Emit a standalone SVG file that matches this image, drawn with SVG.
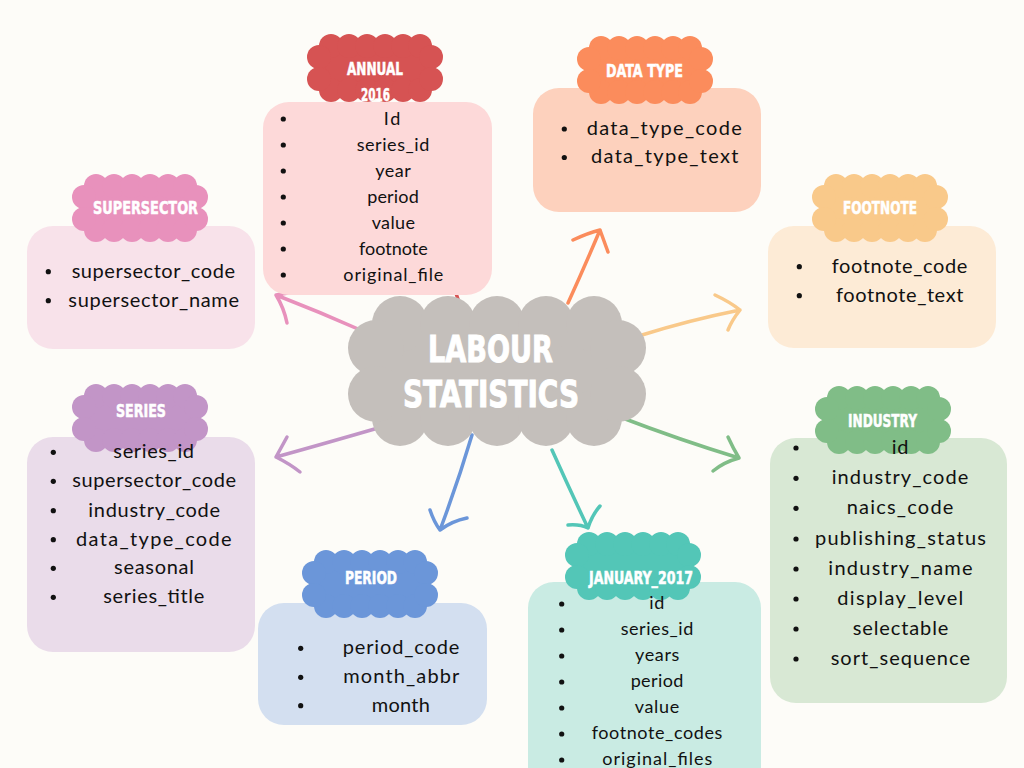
<svg xmlns="http://www.w3.org/2000/svg" width="1024" height="768" viewBox="0 0 1024 768">
<style>
.bg{fill:#fdfcf8}
.item{font-family:Lato,"Liberation Sans",sans-serif;fill:#111;text-anchor:middle}
.s18{font-size:18px}
.s20{font-size:20px}
.ttl{font-family:"Liberation Sans Narrow","DejaVu Sans Condensed","Liberation Sans",sans-serif;font-weight:bold;fill:#fff;stroke:#fff;stroke-width:0.5;text-anchor:middle;font-size:17px}
.big{font-family:"Liberation Sans Narrow","DejaVu Sans Condensed","Liberation Sans",sans-serif;font-weight:bold;fill:#fff;stroke:#fff;stroke-width:1;text-anchor:middle;font-size:38px}
.dot{fill:#111}
.conn path{fill:none;stroke-width:3.5;stroke-linecap:round;stroke-linejoin:round}
</style>
<defs>
<g id="cloudS">
<rect x="12" y="13" width="112" height="44"/>
<circle cx="24" cy="13" r="12"/><circle cx="42" cy="13" r="12"/><circle cx="60" cy="13" r="12"/><circle cx="78" cy="13" r="12"/><circle cx="96" cy="13" r="12"/><circle cx="113" cy="13" r="12"/>
<circle cx="24" cy="57" r="12"/><circle cx="42" cy="57" r="12"/><circle cx="60" cy="57" r="12"/><circle cx="78" cy="57" r="12"/><circle cx="96" cy="57" r="12"/><circle cx="113" cy="57" r="12"/>
<circle cx="12" cy="24" r="12"/><circle cx="12" cy="46" r="12"/><circle cx="124" cy="24" r="12"/><circle cx="124" cy="46" r="12"/>
</g>
<g id="cloudL">
<rect x="28" y="28" width="242" height="94"/>
<circle cx="52" cy="28" r="28"/><circle cx="100" cy="28" r="28"/><circle cx="149" cy="28" r="28"/><circle cx="198" cy="28" r="28"/><circle cx="246" cy="28" r="28"/>
<circle cx="52" cy="122" r="28"/><circle cx="100" cy="122" r="28"/><circle cx="149" cy="122" r="28"/><circle cx="198" cy="122" r="28"/><circle cx="246" cy="122" r="28"/>
<circle cx="28" cy="52" r="28"/><circle cx="28" cy="98" r="28"/><circle cx="270" cy="52" r="28"/><circle cx="270" cy="98" r="28"/>
</g>
</defs>
<rect class="bg" x="0" y="0" width="1024" height="768"/>

<g id="connectors" class="conn">
<path d="M460,305 L448,270" stroke="#d65353"/>
<path d="M365,332 Q320,312 276,295 M288,293 L276,295 Q284,308 287,323" stroke="#e891bc"/>
<path d="M378,428 Q330,442 276,457 M287,437 L276,457 Q290,464 300,472" stroke="#c295c7"/>
<path d="M568,303 Q584,268 600,230 M573,240 Q588,233 600,230 L608,252" stroke="#fb8c5c"/>
<path d="M642,335 Q690,320 740,310 M715,295 Q730,302 740,310 Q732,320 728,330" stroke="#f9c98a"/>
<path d="M620,417 Q680,440 739,458 M728,437 Q733,448 739,458 Q724,462 713,471" stroke="#80bd87"/>
<path d="M552,450 Q570,490 588,528 M568,525 Q580,524 588,528 Q592,515 600,506" stroke="#53c6b7"/>
<path d="M472,435 Q458,482 440,530 M430,510 Q434,522 440,530 Q452,521 467,518" stroke="#6b96d9"/>
</g>

<g id="center">
<use href="#cloudL" x="348" y="296" fill="#c4bfbb"/>
<text class="big" x="490.5" y="362" textLength="125" lengthAdjust="spacingAndGlyphs">LABOUR</text>
<text class="big" x="491" y="407" textLength="176" lengthAdjust="spacingAndGlyphs">STATISTICS</text>
</g>

<g id="annual">
<use href="#cloudS" x="307" y="33" fill="#d65353"/>
<text class="ttl" x="375" y="75" textLength="56" lengthAdjust="spacingAndGlyphs">ANNUAL</text>
<text class="ttl" x="375.5" y="101" textLength="29" lengthAdjust="spacingAndGlyphs">2016</text>
<rect x="263" y="102" width="229" height="193" rx="26" fill="#fdd9d9"/>
<circle class="dot" cx="283.3" cy="119" r="2.6"/><circle class="dot" cx="283.3" cy="145" r="2.6"/><circle class="dot" cx="283.3" cy="171" r="2.6"/><circle class="dot" cx="283.3" cy="197" r="2.6"/><circle class="dot" cx="283.3" cy="223" r="2.6"/><circle class="dot" cx="283.3" cy="249" r="2.6"/><circle class="dot" cx="283.3" cy="275" r="2.6"/>
<text class="item s18" x="392" y="124.5" textLength="16.7">Id</text>
<text class="item s18" x="393" y="150.5" textLength="72.7">series_id</text>
<text class="item s18" x="393" y="176.5" textLength="35.7">year</text>
<text class="item s18" x="393" y="202.5" textLength="51.7">period</text>
<text class="item s18" x="393.3" y="228.5" textLength="43.3">value</text>
<text class="item s18" x="393.3" y="254.5" textLength="68.7">footnote</text>
<text class="item s18" x="393.3" y="280.5" textLength="100">original_file</text>
</g>

<g id="datatype">
<rect x="533" y="88" width="228" height="124" rx="26" fill="#fdd1bd"/>
<use href="#cloudS" x="577" y="35" fill="#fb8c5c"/>
<text class="ttl" x="644.5" y="77" textLength="77" lengthAdjust="spacingAndGlyphs">DATA TYPE</text>
<circle class="dot" cx="564.3" cy="129" r="2.6"/><circle class="dot" cx="564.3" cy="157.5" r="2.6"/>
<text class="item s20" x="664.2" y="135" textLength="155">data_type_code</text>
<text class="item s20" x="664.7" y="163.3" textLength="147.3">data_type_text</text>
</g>

<g id="footnote">
<rect x="768" y="226" width="228" height="122" rx="26" fill="#fdebd6"/>
<use href="#cloudS" x="812" y="173" fill="#f9c98a"/>
<text class="ttl" x="880" y="214" textLength="74" lengthAdjust="spacingAndGlyphs">FOOTNOTE</text>
<circle class="dot" cx="799.3" cy="266.7" r="2.6"/><circle class="dot" cx="799.3" cy="295.7" r="2.6"/>
<text class="item s20" x="899.5" y="272.7" textLength="135.7">footnote_code</text>
<text class="item s20" x="899.7" y="301.7" textLength="127.3">footnote_text</text>
</g>

<g id="supersector">
<rect x="27" y="226" width="228" height="123" rx="26" fill="#f8e2ea"/>
<use href="#cloudS" x="72" y="173" fill="#e891bc"/>
<text class="ttl" x="145.5" y="214" textLength="105" lengthAdjust="spacingAndGlyphs">SUPERSECTOR</text>
<circle class="dot" cx="48.3" cy="271.7" r="2.6"/><circle class="dot" cx="48.3" cy="300.7" r="2.6"/>
<text class="item s20" x="153.3" y="277.7" textLength="163.3">supersector_code</text>
<text class="item s20" x="153.7" y="306.7" textLength="170.7">supersector_name</text>
</g>

<g id="series">
<rect x="27" y="437" width="228" height="215" rx="26" fill="#eadcea"/>
<use href="#cloudS" x="72" y="383" fill="#c295c7"/>
<text class="ttl" x="141" y="417" textLength="50" lengthAdjust="spacingAndGlyphs">SERIES</text>
<circle class="dot" cx="53.3" cy="452.3" r="2.6"/><circle class="dot" cx="53.3" cy="481.3" r="2.6"/><circle class="dot" cx="53.3" cy="510.7" r="2.6"/><circle class="dot" cx="53.3" cy="539.7" r="2.6"/><circle class="dot" cx="53.3" cy="568.3" r="2.6"/><circle class="dot" cx="53.3" cy="597.3" r="2.6"/>
<text class="item s20" x="153.7" y="458.3" textLength="80.7">series_id</text>
<text class="item s20" x="154.2" y="487.3" textLength="163.7">supersector_code</text>
<text class="item s20" x="154.2" y="516.7" textLength="131.7">industry_code</text>
<text class="item s20" x="153.8" y="545.7" textLength="155.7">data_type_code</text>
<text class="item s20" x="154" y="574.3" textLength="80">seasonal</text>
<text class="item s20" x="153.8" y="603.3" textLength="101">series_title</text>
</g>

<g id="period">
<rect x="258" y="603" width="229" height="122" rx="26" fill="#d3dff0"/>
<use href="#cloudS" x="302" y="549" fill="#6b96d9"/>
<text class="ttl" x="371" y="584" textLength="52" lengthAdjust="spacingAndGlyphs">PERIOD</text>
<circle class="dot" cx="300.7" cy="648.3" r="2.6"/><circle class="dot" cx="300.7" cy="677.3" r="2.6"/><circle class="dot" cx="300.7" cy="705.7" r="2.6"/>
<text class="item s20" x="401" y="654.3" textLength="116.7">period_code</text>
<text class="item s20" x="401.3" y="683.3" textLength="116">month_abbr</text>
<text class="item s20" x="400.8" y="711.7" textLength="58.3">month</text>
</g>

<g id="january">
<rect x="528" y="582" width="233" height="210" rx="26" fill="#c9ebe3"/>
<use href="#cloudS" x="565" y="531" fill="#53c6b7"/>
<text class="ttl" x="641" y="584" textLength="104" lengthAdjust="spacingAndGlyphs">JANUARY_2017</text>
<circle class="dot" cx="561.7" cy="604" r="2.6"/><circle class="dot" cx="561.7" cy="630" r="2.6"/><circle class="dot" cx="561.7" cy="656" r="2.6"/><circle class="dot" cx="561.7" cy="682" r="2.6"/><circle class="dot" cx="561.7" cy="708" r="2.6"/><circle class="dot" cx="561.7" cy="734" r="2.6"/><circle class="dot" cx="561.7" cy="760" r="2.6"/>
<text class="item s18" x="656.8" y="609.3" textLength="15">id</text>
<text class="item s18" x="657" y="635" textLength="72.7">series_id</text>
<text class="item s18" x="657.2" y="661.3" textLength="44.3">years</text>
<text class="item s18" x="657" y="687.3" textLength="52.7">period</text>
<text class="item s18" x="657" y="713.3" textLength="44.3">value</text>
<text class="item s18" x="657" y="739.3" textLength="130.7">footnote_codes</text>
<text class="item s18" x="657.3" y="765" textLength="110">original_files</text>
</g>

<g id="industry">
<rect x="770" y="438" width="237" height="265" rx="26" fill="#d8e8d4"/>
<use href="#cloudS" x="815" y="385" fill="#80bd87"/>
<text class="ttl" x="882.5" y="427" textLength="69" lengthAdjust="spacingAndGlyphs">INDUSTRY</text>
<circle class="dot" cx="796" cy="448" r="2.6"/><circle class="dot" cx="796" cy="478.3" r="2.6"/><circle class="dot" cx="796" cy="508.3" r="2.6"/><circle class="dot" cx="796" cy="539" r="2.6"/><circle class="dot" cx="796" cy="569" r="2.6"/><circle class="dot" cx="796" cy="599" r="2.6"/><circle class="dot" cx="796" cy="629" r="2.6"/><circle class="dot" cx="796" cy="659" r="2.6"/>
<text class="item s20" x="900" y="454" textLength="16.7">id</text>
<text class="item s20" x="900" y="484.3" textLength="136.7">industry_code</text>
<text class="item s20" x="900" y="514.3" textLength="106.7">naics_code</text>
<text class="item s20" x="900.5" y="545" textLength="171">publishing_status</text>
<text class="item s20" x="900.5" y="575" textLength="144.3">industry_name</text>
<text class="item s20" x="900.3" y="605" textLength="126">display_level</text>
<text class="item s20" x="900.5" y="635" textLength="95.7">selectable</text>
<text class="item s20" x="900.3" y="665" textLength="139.3">sort_sequence</text>
</g>
</svg>
